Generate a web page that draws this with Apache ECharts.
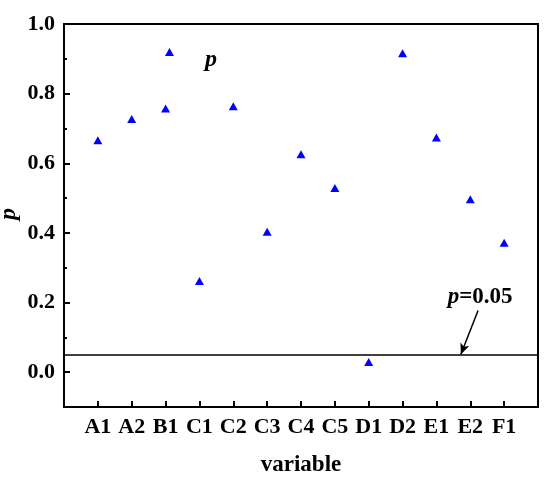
<!DOCTYPE html>
<html>
<head>
<meta charset="utf-8">
<script src="https://cdn.jsdelivr.net/npm/echarts@6/dist/echarts.min.js"></script>
<style>
  html, body { margin: 0; padding: 0; background: #fff; }
  #chart { width: 550px; height: 479px; }
</style>
</head>
<body>
<div id="chart"></div>
<script>
// categories along x, placed at positions 1..13 (axis runs 0..14)
const categories = ['A1', 'A2', 'B1', 'C1', 'C2', 'C3', 'C4', 'C5', 'D1', 'D2', 'E1', 'E2', 'F1'];
const pValues = [0.666, 0.727, 0.757, 0.262, 0.764, 0.403, 0.626, 0.529, 0.029, 0.916, 0.674, 0.497, 0.372];
const yTicks = [0.0, 0.2, 0.4, 0.6, 0.8, 1.0];
const yMinorTicks = [0.1, 0.3, 0.5, 0.7, 0.9];
const threshold = 0.05;
// arrow for the p=0.05 note, in data units
const arrowFrom = [12.23, 0.177];
const arrowTo = [11.72, 0.051];
const notePos = [12.29, 0.215];

const font = '"Liberation Serif", "Times New Roman", serif';
const chart = echarts.init(document.getElementById('chart'));

const tickStyle = { color: '#000', width: 2 };

const option = {
  animation: false,
  grid: {
    left: 64, right: 12, top: 24, bottom: 72,
    outerBoundsMode: 'none',
    containLabel: false,
    show: true, borderColor: '#000', borderWidth: 2
  },
  // y axis title, drawn by hand (axis name kept getting pushed to the edge)
  graphic: [{
    type: 'text',
    x: 9, y: 214,
    rotation: Math.PI / 2,
    style: {
      text: 'p',
      fontFamily: font, fontStyle: 'italic', fontWeight: 'bold', fontSize: 24,
      fill: '#000', align: 'center', verticalAlign: 'middle'
    }
  }],
  legend: {
    left: 160, top: 43,
    icon: 'triangle',
    itemWidth: 9, itemHeight: 8,
    formatter: '{a|{name}}',
    textStyle: {
      rich: {
        a: {
          fontFamily: font, fontStyle: 'italic', fontWeight: 'bold', fontSize: 24,
          color: '#000', padding: [16, 0, 0, 26]
        }
      }
    },
    data: ['p']
  },
  xAxis: {
    type: 'value',
    min: 0, max: categories.length + 1, interval: 1,
    name: 'variable',
    nameLocation: 'middle',
    nameGap: 47,
    nameMoveOverlap: false,
    nameTextStyle: { fontFamily: font, fontWeight: 'bold', fontSize: 23, color: '#000' },
    axisLine: { onZero: false, lineStyle: { color: '#000', width: 2 } },
    axisTick: { inside: true, length: 6, lineStyle: tickStyle },
    axisLabel: {
      margin: 9,
      fontFamily: font, fontWeight: 'bold', fontSize: 22, color: '#000',
      formatter: v => categories[v - 1] || ''
    },
    splitLine: { show: false }
  },
  yAxis: [{
    type: 'value',
    min: -0.1, max: 1.0,
    axisLine: { onZero: false, lineStyle: { color: '#000', width: 2 } },
    axisTick: { inside: true, length: 6, lineStyle: tickStyle, customValues: yTicks },
    axisLabel: {
      margin: 9,
      fontFamily: font, fontWeight: 'bold', fontSize: 22, color: '#000',
      customValues: yTicks,
      formatter: v => v.toFixed(1)
    },
    splitLine: { show: false }
  }, {
    // minor ticks only
    type: 'value',
    position: 'left',
    offset: 0,
    min: -0.1, max: 1.0,
    axisLine: { show: false, onZero: false },
    axisTick: { inside: true, length: 3, lineStyle: tickStyle, customValues: yMinorTicks },
    axisLabel: { show: false },
    splitLine: { show: false }
  }],
  series: [{
    name: 'p',
    type: 'scatter',
    symbol: 'triangle',
    symbolSize: [9, 8],
    itemStyle: { color: '#0000ff', opacity: 1 },
    data: pValues.map((v, i) => [i + 1, v]),
    markLine: {
      silent: true,
      animation: false,
      label: { show: false },
      data: [
        [{ coord: [0, threshold], symbol: 'none' }, { coord: [categories.length + 1, threshold], symbol: 'none' }],
        [{ coord: arrowFrom, symbol: 'none' }, { coord: arrowTo, symbol: 'arrow', symbolSize: [7, 11] }]
      ],
      lineStyle: { color: '#000', width: 1.5, type: 'solid', opacity: 1 }
    },
    markPoint: {
      silent: true,
      symbol: 'circle', symbolSize: 0,
      data: [{ coord: notePos }],
      label: {
        show: true,
        position: 'inside',
        formatter: '{i|p}{b|=0.05}',
        rich: {
          i: { fontFamily: font, fontStyle: 'italic', fontWeight: 'bold', fontSize: 23, color: '#000' },
          b: { fontFamily: font, fontWeight: 'bold', fontSize: 23, color: '#000' }
        }
      }
    }
  }]
};

chart.setOption(option);
</script>
</body>
</html>
